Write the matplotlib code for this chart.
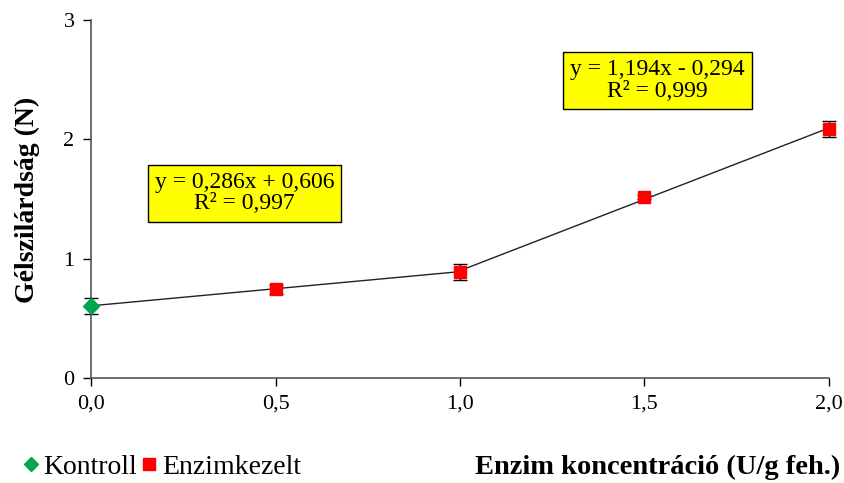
import numpy as np
import matplotlib.pyplot as plt

plt.rcParams['font.family'] = ['Liberation Serif', 'DejaVu Serif']

# data
kontroll_x = [0.0]
kontroll_y = [0.606]
kontroll_err = [0.065]

enzim_x = [0.5, 1.0, 1.5, 2.0]
enzim_y = [0.746, 0.889, 1.517, 2.087]
enzim_err = [0.038, 0.07, 0.02, 0.065]

# trendlines: (slope, intercept, x from, x to)
fit1 = (0.286, 0.606, 0.0, 1.0)
fit2 = (1.194, -0.294, 1.0, 2.0)

fig = plt.figure(figsize=(8.44, 4.83), dpi=100)
ax = fig.add_axes([0.108, 0.217, 0.874, 0.742])

for k, b, x0, x1 in (fit1, fit2):
    xs = np.array([x0, x1])
    ax.plot(xs, k * xs + b, color='#222222', lw=1.0, zorder=2)

ax.errorbar(kontroll_x, kontroll_y, yerr=kontroll_err, fmt='D', color='#00A550',
            ms=8, ecolor='black', elinewidth=1, capsize=5, zorder=3, clip_on=False)
ax.errorbar(enzim_x, enzim_y, yerr=enzim_err, fmt='s', color='#FF0000',
            ms=8, ecolor='black', elinewidth=1, capsize=5, zorder=3, clip_on=False)

ax.set_xlim(0, 2.0)
ax.set_ylim(0, 3)
ax.set_xticks([0, 0.5, 1.0, 1.5, 2.0])
ax.set_xticklabels(['0,0', '0,5', '1,0', '1,5', '2,0'])
ax.set_yticks([0, 1, 2, 3])
ax.tick_params(direction='out', length=6, width=1, labelsize=16, colors='black', pad=6)
for s in ('top', 'right'):
    ax.spines[s].set_visible(False)
for s in ('left', 'bottom'):
    ax.spines[s].set_color('#555555')
    ax.spines[s].set_linewidth(1.2)

fig.text(0.032, 0.587, 'Gélszilárdság (N)', fontsize=20, fontweight='bold',
         rotation=90, ha='center', va='center')
fig.text(0.995, 0.033, 'Enzim koncentráció (U/g feh.)', fontsize=20.5,
         fontweight='bold', ha='right', va='center')

box = dict(boxstyle='square,pad=0.3', facecolor='#FFFF00', edgecolor='black', lw=1)
ax.text(0.416, 1.55, 'y = 0,286x + 0,606\nR² = 0,997', fontsize=17, ha='center',
        va='center', bbox=box, linespacing=1.05)
ax.text(1.535, 2.49, 'y = 1,194x - 0,294\nR² = 0,999', fontsize=17, ha='center',
        va='center', bbox=box, linespacing=1.05)

h1 = plt.Line2D([], [], marker='D', color='#00A550', ls='none', ms=7)
h2 = plt.Line2D([], [], marker='s', color='#FF0000', ls='none', ms=8)
fig.legend([h1, h2], ['Kontroll', 'Enzimkezelt'], loc='center left',
           bbox_to_anchor=(0.0, 0.033), ncol=2, frameon=False, fontsize=20,
           handletextpad=0.05, columnspacing=0.05, handlelength=0.8, borderpad=0.2)

fig.savefig('out.png', dpi=100)
